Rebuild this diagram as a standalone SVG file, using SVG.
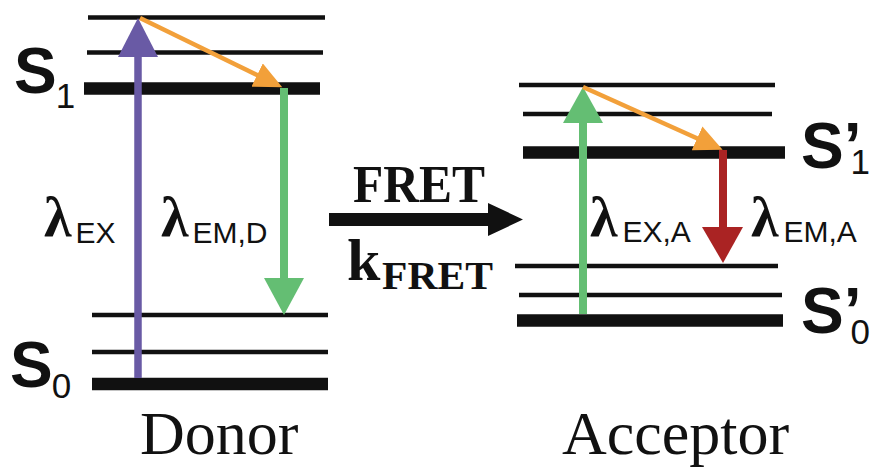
<svg xmlns="http://www.w3.org/2000/svg" width="871" height="468" viewBox="0 0 871 468">
<style>
.lv{stroke:#111;stroke-width:4.5;fill:none}
.lk{stroke:#111;stroke-width:12.5;fill:none}
.bS{font-family:"Liberation Sans",Arial,sans-serif;font-weight:bold;font-size:64px;fill:#111}
.sub{font-family:"Liberation Sans",Arial,sans-serif;font-weight:normal;font-size:35px;fill:#111}
.lam{font-family:"Liberation Serif","Times New Roman",serif;font-weight:bold;font-size:56px;fill:#111}
.ls{font-family:"Liberation Sans",Arial,sans-serif;font-weight:normal;font-size:30px;fill:#111}
.cap{font-family:"Liberation Serif","Times New Roman",serif;font-size:62px;fill:#111}
.fr{font-family:"Liberation Serif","Times New Roman",serif;font-weight:bold;fill:#111}
</style>
<defs>
<marker id="ho" markerUnits="userSpaceOnUse" markerWidth="30" markerHeight="28" refX="1" refY="13" orient="auto" viewBox="0 0 30 28">
<path d="M0,0 L28,13 L0,26 z" fill="#f2a03a"/>
</marker>
</defs>
<g id="donor">
<line class="lv" x1="88" y1="17.5" x2="325" y2="17.5"/>
<line class="lv" x1="87" y1="52.5" x2="323" y2="52.5"/>
<line class="lk" x1="84" y1="88.5" x2="320" y2="88.5"/>
<line class="lv" x1="92" y1="315" x2="328" y2="315"/>
<line class="lv" x1="92" y1="352" x2="328" y2="352"/>
<line class="lk" x1="92" y1="384" x2="328" y2="384"/>
<text class="bS" x="14" y="93">S<tspan class="sub" dx="-1" dy="15">1</tspan></text>
<text class="bS" x="10" y="387">S<tspan class="sub" dx="-1" dy="11">0</tspan></text>
<text class="cap" x="140" y="454">Donor</text>
</g>
<g id="acceptor">
<line class="lv" x1="519" y1="85" x2="775" y2="85"/>
<line class="lv" x1="523" y1="114" x2="772" y2="114"/>
<line class="lk" x1="523" y1="152.5" x2="785" y2="152.5"/>
<line class="lv" x1="515" y1="266" x2="778" y2="266"/>
<line class="lv" x1="519" y1="295" x2="782" y2="295"/>
<line class="lk" x1="517" y1="320.5" x2="783" y2="320.5"/>
<text class="bS" x="801" y="168">S’<tspan class="sub" dx="-11" dy="6">1</tspan></text>
<text class="bS" x="801" y="333">S’<tspan class="sub" dx="-11" dy="11">0</tspan></text>
<text class="cap" x="562" y="454">Acceptor</text>
</g>
<g id="labels">
<text class="lam" x="44" y="236">λ<tspan class="ls" dx="4" dy="7">EX</tspan></text>
<text class="lam" x="161" y="236">λ<tspan class="ls" dx="4" dy="7">EM,D</tspan></text>
<text class="lam" x="590" y="236">λ<tspan class="ls" dx="5" dy="6">EX,A</tspan></text>
<text class="lam" x="751" y="236">λ<tspan class="ls" dx="5" dy="6">EM,A</tspan></text>
</g>
<g id="fret">
<text class="fr" x="353" y="202" font-size="52" textLength="132" lengthAdjust="spacingAndGlyphs">FRET</text>
<text class="fr" x="347" y="280" font-size="60">k<tspan x="382" y="289" font-size="40" textLength="111" lengthAdjust="spacingAndGlyphs">FRET</tspan></text>
<path d="M329,213 H488 V203 L523,219.5 L488,236 V226 H329 z" fill="#111"/>
</g>
<g id="connectors">
<line x1="138" y1="378" x2="138" y2="56" stroke="#695aa5" stroke-width="7.5"/>
<polygon points="138,18 118,57 158,57" fill="#695aa5"/>
<line x1="140" y1="18" x2="258" y2="75.5" stroke="#f2a03a" stroke-width="4.5" marker-end="url(#ho)"/>
<line x1="284" y1="88" x2="284" y2="279" stroke="#64be73" stroke-width="8"/>
<polygon points="264,278 304,278 284,315" fill="#64be73"/>
<line x1="583" y1="314" x2="583" y2="122" stroke="#64be73" stroke-width="8"/>
<polygon points="583,87 563,123 603,123" fill="#64be73"/>
<line x1="583" y1="87" x2="698" y2="138.7" stroke="#f2a03a" stroke-width="4.5" marker-end="url(#ho)"/>
<line x1="723" y1="150" x2="723" y2="228" stroke="#aa2323" stroke-width="8"/>
<polygon points="702,227 743,227 723,263" fill="#aa2323"/>
</g>
</svg>
